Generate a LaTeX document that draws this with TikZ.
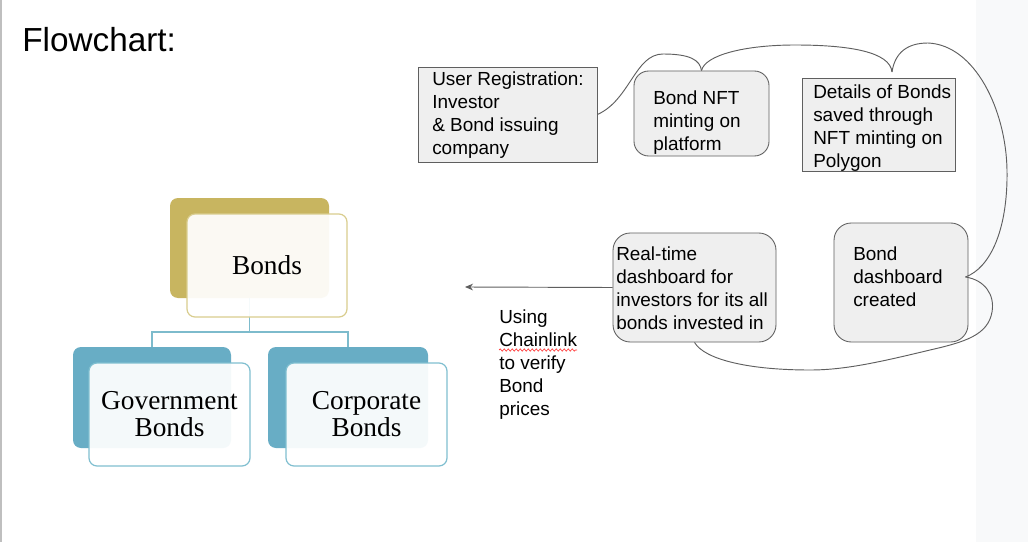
\documentclass[tikz,border=0pt]{standalone}
\usepackage{fontspec}
\setmainfont{Liberation Sans}
\newfontfamily\bondfont{Liberation Serif}
\usetikzlibrary{arrows.meta, calc, decorations.pathmorphing}

\definecolor{boxgray}{HTML}{EFEFEF}
\definecolor{linegray}{HTML}{5F5F5F}
\definecolor{bondgold}{HTML}{C8B560}
\definecolor{goldedge}{HTML}{D9CD8E}
\definecolor{bondblue}{HTML}{68ADC5}
\definecolor{blueedge}{HTML}{80BFD0}
\definecolor{bondline}{HTML}{7DBBCC}
\definecolor{stripe}{HTML}{F8F9FA}
\newcommand{\pxu}{0.75pt}

\begin{document}
\begin{tikzpicture}[
    x=0.75pt, y=-0.75pt,
    box/.style={draw=linegray, fill=boxgray, line width=0.65pt, inner sep=0pt},
    boxtext/.style={anchor=north west, inner sep=0pt, align=left, font=\fontsize{14.2}{17.25}\selectfont},
    back/.style={rounded corners=6pt, inner sep=0pt},
    front/.style={rounded corners=6pt, fill=white, fill opacity=0.93, text opacity=1, inner sep=0pt, line width=0.9pt, align=center, font=\bondfont\fontsize{20.5}{20.3}\selectfont},
    link/.style={draw=bondline, line width=1.1pt},
    flow/.style={draw=linegray, line width=0.7pt},
    arrow/.style={-{Stealth[length=6pt, width=5pt]}, draw=linegray, line width=0.7pt}
]
\useasboundingbox (0,0) rectangle (1028,542);
\fill[white] (0,0) rectangle (1028,542);
\fill[stripe] (976,0) rectangle (1028,542);
\draw[black!25, line width=1.5pt] (1,0) -- (1,542);

\node[anchor=north west, inner sep=0pt, font=\fontsize{25}{30}\selectfont] (title) at (22,27) {Flowchart:};

% bond types
\node[back, fill=bondgold, minimum width=159*\pxu, minimum height=100*\pxu] (bback) at (249.5,248) {};
\node[back, fill=bondblue, minimum width=158*\pxu, minimum height=101*\pxu] (gback) at (152,397.5) {};
\node[back, fill=bondblue, minimum width=160*\pxu, minimum height=101*\pxu] (cback) at (348,397.5) {};
\coordinate (split) at (249.5,332);
\draw[link] (bback.south) -- (split) -| (gback.north);
\draw[link] (split) -| (cback.north);
\node[front, draw=goldedge, minimum width=160*\pxu, minimum height=103*\pxu] (bonds) at (267,265.5) {Bonds};
\node[front, draw=blueedge, minimum width=161*\pxu, minimum height=103*\pxu] (gov) at (169.5,414.5) {Government\\Bonds};
\node[front, draw=blueedge, minimum width=161*\pxu, minimum height=103*\pxu] (corp) at (366.5,414.5) {Corporate\\Bonds};

% flow boxes
\node[box, minimum width=179*\pxu, minimum height=95*\pxu] (reg) at (507.5,114.5) {};
\node[box, rounded corners=11pt, minimum width=135*\pxu, minimum height=85*\pxu] (nft) at (701.5,113.5) {};
\node[box, minimum width=153*\pxu, minimum height=93*\pxu] (det) at (878.5,124.5) {};
\node[box, rounded corners=13pt, minimum width=163*\pxu, minimum height=109*\pxu] (rt) at (694.5,287.5) {};
\node[box, rounded corners=13pt, minimum width=134*\pxu, minimum height=119*\pxu] (dash) at (901,282.5) {};

\node[boxtext] (regtext) at (432,72) {User Registration:\\Investor\\\& Bond issuing\\company};
\node[boxtext] (nfttext) at (653,91) {Bond NFT\\minting on\\platform};
\node[boxtext] (dettext) at (813,85) {Details of Bonds\\saved through\\NFT minting on\\Polygon};
\node[boxtext] (rttext) at (616,247) {Real-time\\dashboard for\\investors for its all\\bonds invested in};
\node[boxtext] (dashtext) at (853,247) {Bond\\dashboard\\created};
\node[boxtext] (chain) at (499,310) {Using\\Chainlink\\to verify\\Bond\\prices};
\draw[red!80, line width=0.5pt, decorate, decoration={snake, amplitude=0.8pt, segment length=3pt}] (499,350) -- (577,350);

% connectors
\coordinate (detcusp) at (892,72);
\coordinate (dashcusp) at ($(dash.east)+(-3,-5.5)$);
\coordinate (chainend) at (465,287);
\draw[flow] (reg.east) .. controls (630,100) and (635,54) .. (663,54)
    .. controls (690,54) and (700,60) .. (nft.north);
\draw[flow] (nft.north) .. controls (705,55) and (745,45) .. (795,45)
    .. controls (850,45) and (890,52) .. (detcusp);
\draw[flow] (detcusp) .. controls (895,52) and (908,43) .. (928,43)
    .. controls (975,45) and (1006,110) .. (1007,170)
    .. controls (1008,230) and (990,268) .. (dashcusp);
\draw[flow] (dashcusp) .. controls (985,280) and (995,295) .. (992,312)
    .. controls (988,335) and (965,342) .. (930,350)
    .. controls (880,362) and (845,370) .. (810,370)
    .. controls (750,370) and (705,360) .. (rt.south);
\draw[arrow] (rt.west) -- (chainend);
\end{tikzpicture}
\end{document}
